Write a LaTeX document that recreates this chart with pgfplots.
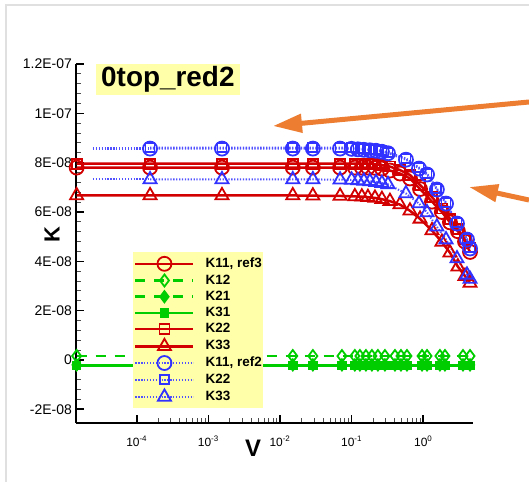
\documentclass[border=0pt]{standalone}
\usepackage{fontspec}
\setmainfont{Liberation Sans}
\usepackage{pgfplots}
\pgfplotsset{compat=1.18}
\usetikzlibrary{arrows.meta}
\definecolor{kred}{RGB}{210,0,0}
\definecolor{kblue}{RGB}{50,50,255}
\definecolor{kgreen}{RGB}{0,205,0}
\definecolor{kyellow}{RGB}{255,255,170}
\definecolor{korange}{RGB}{237,125,49}
\begin{document}
\begin{tikzpicture}
\useasboundingbox (0,0) rectangle (529bp,482bp);
\draw[black!12, line width=1.5bp] (6bp,0bp) -- (6bp,477bp) -- (529bp,477bp);
\begin{axis}[
  at={(76bp,59bp)}, anchor=south west,
  width=397.3bp, height=359bp, scale only axis,
  xmode=log, xmin=1.42e-5, xmax=5,
  ymin=-2.556e-8, ymax=1.2e-7,
  clip=false,
  axis x line*=bottom, axis y line*=left,
  axis line style={line width=2bp, black},
  tick align=inside,
  major tick length=8bp, minor tick length=5bp,
  every major tick/.append style={line width=1.6bp, black},
  every minor tick/.append style={line width=0.9bp, black!70},
  xtick={1e-4,1e-3,1e-2,1e-1,1},
  xticklabels={10\textsuperscript{-4},10\textsuperscript{-3},10\textsuperscript{-2},10\textsuperscript{-1},10\textsuperscript{0}},
  xticklabel style={font=\fontsize{12}{12}\selectfont, inner sep=0pt, anchor=north, yshift=-13bp},
  ytick={-2e-8,0,2e-8,4e-8,6e-8,8e-8,1e-7,1.2e-7},
  yticklabels={-2E-08,0,2E-08,4E-08,6E-08,8E-08,1E-07,1.2E-07},
  scaled y ticks=false,
  minor y tick num=4,
  yticklabel style={font=\fontsize{14}{14}\selectfont, inner sep=0pt, anchor=east, xshift=-4bp},
  xlabel={V},
  xlabel style={at={(axis description cs:0.446,-0.0696)}, anchor=center, font=\bfseries\fontsize{24}{24}\selectfont},
  ylabel={K},
  ylabel style={at={(axis description cs:-0.0604,0.524)}, anchor=center, rotate=0, font=\bfseries\fontsize{22}{22}\selectfont},
  legend style={at={(axis description cs:0.1435,0.476)}, anchor=north west, fill=kyellow, draw=none,
    font=\bfseries\fontsize{13.5}{13.5}\selectfont, inner xsep=1bp, inner ysep=4.5bp, row sep=3.2bp,
    nodes={inner sep=0pt, text height=10bp, text depth=3bp},
    /tikz/every odd column/.append style={column sep=11bp}},
  legend cell align=left,
  legend image code/.code={\draw[mark repeat=2,mark phase=2,#1] plot coordinates {(0bp,0bp)(29bp,0bp)(58bp,0bp)};},
  bdot/.style={kblue!85, line width=2bp, dash pattern=on 1.3bp off 1.6bp},
]
% K11, ref3
\addplot[kred, line width=2.5bp, mark=o, mark size=7bp, mark options={solid, line width=1.8bp}] coordinates {
(1.45e-5,7.80e-8)(1.535e-4,7.80e-8)(1.55e-3,7.80e-8)(0.0151,7.80e-8)(0.0288,7.80e-8)(0.069,7.80e-8)
(0.111,7.80e-8)(0.139,7.80e-8)(0.169,7.80e-8)(0.212,7.79e-8)(0.265,7.76e-8)(0.343,7.68e-8)
(0.473,7.56e-8)(0.653,7.36e-8)(0.902,6.93e-8)(1.325,6.42e-8)(1.82,6.00e-8)(2.36,5.58e-8)
(3.05,5.22e-8)(3.83,4.80e-8)(4.50,4.38e-8)};
\addlegendentry{K11, ref3}
% K12
\addplot[kgreen, line width=2.5bp, dash pattern=on 10bp off 9bp, mark=diamond, mark size=6bp, mark options={solid, line width=1.8bp}] coordinates {
(1.45e-5,1.6e-9)(1.535e-4,1.6e-9)(1.55e-3,1.6e-9)(0.0151,1.6e-9)(0.0288,1.6e-9)(0.0733,1.6e-9)
(0.111,1.6e-9)(0.1306,1.6e-9)(0.1585,1.6e-9)(0.192,1.6e-9)(0.233,1.6e-9)(0.292,1.6e-9)
(0.403,1.6e-9)(0.489,1.6e-9)(0.593,1.6e-9)(0.962,1.6e-9)(1.13,1.6e-9)(1.71,1.6e-9)
(2.01,1.6e-9)(3.59,1.6e-9)(4.50,1.6e-9)};
\addlegendentry{K12}
% K21
\addplot[kgreen, line width=2.5bp, dash pattern=on 10bp off 9bp, mark=diamond*, mark size=5bp, mark options={solid, fill=kgreen}] coordinates {
(1.45e-5,-2.0e-9)(1.535e-4,-2.0e-9)(1.55e-3,-2.0e-9)(0.0151,-2.0e-9)(0.0288,-2.0e-9)(0.0733,-2.0e-9)
(0.111,-2.0e-9)(0.1306,-2.0e-9)(0.1585,-2.0e-9)(0.192,-2.0e-9)(0.233,-2.0e-9)(0.292,-2.0e-9)
(0.403,-2.0e-9)(0.489,-2.0e-9)(0.593,-2.0e-9)(0.962,-2.0e-9)(1.13,-2.0e-9)(1.71,-2.0e-9)
(2.01,-2.0e-9)(3.59,-2.0e-9)(4.50,-2.0e-9)};
\addlegendentry{K21}
% K31
\addplot[kgreen, line width=2.5bp, mark=square*, mark size=3.5bp, mark options={solid, fill=kgreen}] coordinates {
(1.45e-5,-2.3e-9)(1.535e-4,-2.3e-9)(1.55e-3,-2.3e-9)(0.0151,-2.3e-9)(0.0288,-2.3e-9)(0.0733,-2.3e-9)
(0.111,-2.3e-9)(0.1306,-2.3e-9)(0.1585,-2.3e-9)(0.192,-2.3e-9)(0.233,-2.3e-9)(0.292,-2.3e-9)
(0.403,-2.3e-9)(0.489,-2.3e-9)(0.593,-2.3e-9)(0.962,-2.3e-9)(1.13,-2.3e-9)(1.71,-2.3e-9)
(2.01,-2.3e-9)(3.59,-2.3e-9)(4.50,-2.3e-9)};
\addlegendentry{K31}
% K22 red
\addplot[kred, line width=2.5bp, mark=square, mark size=5bp, mark options={solid, line width=1.8bp}] coordinates {
(1.45e-5,7.96e-8)(1.535e-4,7.96e-8)(1.55e-3,7.96e-8)(0.0151,7.96e-8)(0.0288,7.96e-8)(0.069,7.96e-8)
(0.111,7.96e-8)(0.139,7.96e-8)(0.169,7.96e-8)(0.212,7.94e-8)(0.265,7.90e-8)(0.343,7.84e-8)
(0.473,7.70e-8)(0.653,7.50e-8)(0.902,7.10e-8)(1.325,6.60e-8)(1.82,6.14e-8)(2.36,5.73e-8)
(3.05,5.30e-8)(3.83,4.90e-8)(4.50,4.56e-8)};
\addlegendentry{K22}
% K33 red
\addplot[kred, line width=2.5bp, mark=triangle, mark size=7.5bp, mark options={solid, line width=1.8bp}] coordinates {
(1.45e-5,6.67e-8)(1.535e-4,6.67e-8)(1.55e-3,6.67e-8)(0.0151,6.67e-8)(0.0288,6.66e-8)(0.069,6.65e-8)
(0.111,6.63e-8)(0.139,6.62e-8)(0.169,6.60e-8)(0.212,6.57e-8)(0.265,6.52e-8)(0.343,6.44e-8)
(0.473,6.30e-8)(0.653,6.05e-8)(0.902,5.72e-8)(1.325,5.25e-8)(1.82,4.78e-8)(2.36,4.35e-8)
(3.05,3.78e-8)(3.83,3.40e-8)(4.50,3.12e-8)};
\addlegendentry{K33}
% K11, ref2
\addplot[bdot, mark=o, mark size=7bp, mark options={solid, kblue, line width=1.8bp}] coordinates {
(1.535e-4,8.57e-8)(1.55e-3,8.57e-8)(0.0151,8.57e-8)(0.0288,8.57e-8)(0.069,8.57e-8)
(0.1,8.56e-8)(0.1225,8.54e-8)(0.1486,8.52e-8)(0.180,8.50e-8)(0.219,8.48e-8)(0.265,8.44e-8)(0.322,8.38e-8)
(0.574,8.12e-8)(0.873,7.76e-8)(1.13,7.52e-8)(1.55,6.91e-8)(2.08,6.34e-8)(2.96,5.53e-8)(4.08,4.88e-8)(4.50,4.52e-8)};
\addlegendentry{K11, ref2}
% K22 blue
\addplot[bdot, mark=square, mark size=4.5bp, mark options={solid, kblue, line width=1.8bp}] coordinates {
(1.535e-4,8.61e-8)(1.55e-3,8.61e-8)(0.0151,8.61e-8)(0.0288,8.61e-8)(0.069,8.61e-8)
(0.1,8.60e-8)(0.1225,8.58e-8)(0.1486,8.56e-8)(0.180,8.54e-8)(0.219,8.52e-8)(0.265,8.48e-8)(0.322,8.42e-8)
(0.574,8.17e-8)(0.873,7.80e-8)(1.13,7.56e-8)(1.55,6.95e-8)(2.08,6.38e-8)(2.96,5.57e-8)(4.08,4.92e-8)(4.50,4.56e-8)};
\addlegendentry{K22}
% K33 blue
\addplot[bdot, mark=triangle, mark size=7.5bp, mark options={solid, kblue, line width=1.8bp}] coordinates {
(1.535e-4,7.32e-8)(1.55e-3,7.32e-8)(0.0151,7.32e-8)(0.0288,7.32e-8)(0.069,7.31e-8)
(0.1,7.30e-8)(0.1225,7.28e-8)(0.1486,7.26e-8)(0.180,7.24e-8)(0.219,7.21e-8)(0.265,7.17e-8)(0.322,7.12e-8)
(0.574,6.75e-8)(0.873,6.34e-8)(1.13,5.98e-8)(1.55,5.40e-8)(2.08,4.88e-8)(2.96,4.11e-8)(4.08,3.45e-8)(4.50,3.28e-8)};
\addlegendentry{K33}
% leading blue segments (no markers)
\addplot[forget plot, bdot] coordinates {(2.45e-5,8.57e-8)(1.535e-4,8.57e-8)};
\addplot[forget plot, bdot] coordinates {(2.45e-5,8.61e-8)(1.535e-4,8.61e-8)};
\addplot[forget plot, bdot] coordinates {(2.45e-5,7.32e-8)(1.535e-4,7.32e-8)};
\end{axis}
\node[fill=kyellow, anchor=north west, inner xsep=5bp, inner ysep=0bp, minimum height=31bp, font=\bfseries\fontsize{28}{28}\selectfont] at (96bp,418bp) {0top\_red2};
\draw[korange, line width=5bp, -{Triangle[length=29bp,width=18bp]}] (529bp,380bp) -- (273bp,356bp);
\draw[korange, line width=5bp, -{Triangle[length=29bp,width=17bp]}] (529bp,282bp) -- (469bp,295bp);
\end{tikzpicture}
\end{document}
